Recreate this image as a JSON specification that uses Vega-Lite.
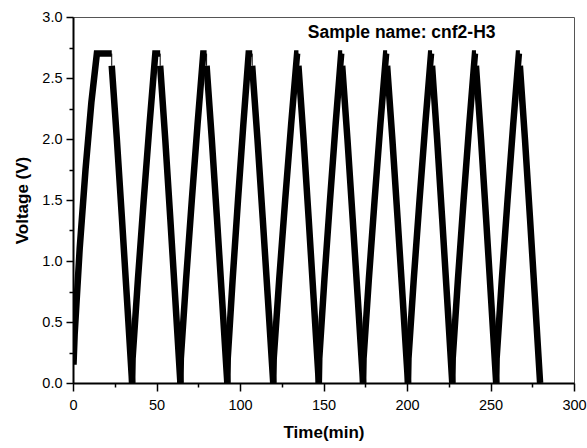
{
  "$schema": "https://vega.github.io/schema/vega-lite/v6.json",
  "width": 501,
  "height": 366,
  "autosize": "none",
  "padding": {"left": 73, "top": 17, "right": 13, "bottom": 65},
  "background": "#ffffff",
  "config": {
    "view": {"stroke": "#555555", "strokeWidth": 1},
    "axis": {
      "grid": false,
      "domainColor": "#000000",
      "domainWidth": 2,
      "tickColor": "#000000",
      "tickWidth": 1.5,
      "labelFont": "Liberation Sans",
      "labelFontSize": 14.5,
      "labelColor": "#000000",
      "titleFont": "Liberation Sans",
      "titleFontSize": 17,
      "titleFontWeight": "bold",
      "titleColor": "#000000"
    }
  },
  "datasets": {
    "curve": [
      {"t": 0.3, "v": 0.15, "s": "c1"}, {"t": 1.0, "v": 0.4, "s": "c1"}, {"t": 4.0, "v": 1.1, "s": "c1"}, {"t": 7.5, "v": 1.75, "s": "c1"}, {"t": 11.0, "v": 2.3, "s": "c1"}, {"t": 14.3, "v": 2.7, "s": "c1"}, {"t": 23.2, "v": 2.7, "s": "c1"},
      {"t": 23.2, "v": 2.6, "s": "d1"}, {"t": 26.25, "v": 2.0, "s": "d1"}, {"t": 29.3, "v": 1.35, "s": "d1"}, {"t": 32.35, "v": 0.68, "s": "d1"}, {"t": 35.4, "v": 0.0, "s": "d1"},
      {"t": 35.4, "v": 0.0, "s": "c2"}, {"t": 35.68, "v": 0.2, "s": "c2"}, {"t": 38.88, "v": 0.85, "s": "c2"}, {"t": 42.35, "v": 1.5, "s": "c2"}, {"t": 45.83, "v": 2.12, "s": "c2"}, {"t": 49.3, "v": 2.7, "s": "c2"}, {"t": 52.2, "v": 2.7, "s": "c2"},
      {"t": 52.2, "v": 2.6, "s": "d2"}, {"t": 55.23, "v": 2.0, "s": "d2"}, {"t": 58.25, "v": 1.35, "s": "d2"}, {"t": 61.28, "v": 0.68, "s": "d2"}, {"t": 64.3, "v": 0.0, "s": "d2"},
      {"t": 64.3, "v": 0.0, "s": "c3"}, {"t": 64.57, "v": 0.2, "s": "c3"}, {"t": 67.73, "v": 0.85, "s": "c3"}, {"t": 71.15, "v": 1.5, "s": "c3"}, {"t": 74.58, "v": 2.12, "s": "c3"}, {"t": 78.0, "v": 2.7, "s": "c3"}, {"t": 80.0, "v": 2.7, "s": "c3"},
      {"t": 80.0, "v": 2.6, "s": "d3"}, {"t": 83.1, "v": 2.0, "s": "d3"}, {"t": 86.2, "v": 1.35, "s": "d3"}, {"t": 89.3, "v": 0.68, "s": "d3"}, {"t": 92.4, "v": 0.0, "s": "d3"},
      {"t": 92.4, "v": 0.0, "s": "c4"}, {"t": 92.66, "v": 0.2, "s": "c4"}, {"t": 95.6, "v": 0.85, "s": "c4"}, {"t": 98.8, "v": 1.5, "s": "c4"}, {"t": 102.0, "v": 2.12, "s": "c4"}, {"t": 105.2, "v": 2.7, "s": "c4"}, {"t": 107.3, "v": 2.7, "s": "c4"},
      {"t": 107.3, "v": 2.6, "s": "d4"}, {"t": 110.45, "v": 2.0, "s": "d4"}, {"t": 113.6, "v": 1.35, "s": "d4"}, {"t": 116.75, "v": 0.68, "s": "d4"}, {"t": 119.9, "v": 0.0, "s": "d4"},
      {"t": 119.9, "v": 0.0, "s": "c5"}, {"t": 120.19, "v": 0.2, "s": "c5"}, {"t": 123.48, "v": 0.85, "s": "c5"}, {"t": 127.05, "v": 1.5, "s": "c5"}, {"t": 130.63, "v": 2.12, "s": "c5"}, {"t": 134.2, "v": 2.7, "s": "c5"}, {"t": 135.0, "v": 2.7, "s": "c5"},
      {"t": 135.0, "v": 2.6, "s": "d5"}, {"t": 138.05, "v": 2.0, "s": "d5"}, {"t": 141.1, "v": 1.35, "s": "d5"}, {"t": 144.15, "v": 0.68, "s": "d5"}, {"t": 147.2, "v": 0.0, "s": "d5"},
      {"t": 147.2, "v": 0.0, "s": "c6"}, {"t": 147.47, "v": 0.2, "s": "c6"}, {"t": 150.55, "v": 0.85, "s": "c6"}, {"t": 153.9, "v": 1.5, "s": "c6"}, {"t": 157.25, "v": 2.12, "s": "c6"}, {"t": 160.6, "v": 2.7, "s": "c6"}, {"t": 161.2, "v": 2.7, "s": "c6"},
      {"t": 161.2, "v": 2.6, "s": "d6"}, {"t": 164.33, "v": 2.0, "s": "d6"}, {"t": 167.45, "v": 1.35, "s": "d6"}, {"t": 170.58, "v": 0.68, "s": "d6"}, {"t": 173.7, "v": 0.0, "s": "d6"},
      {"t": 173.7, "v": 0.0, "s": "c7"}, {"t": 173.98, "v": 0.2, "s": "c7"}, {"t": 177.15, "v": 0.85, "s": "c7"}, {"t": 180.6, "v": 1.5, "s": "c7"}, {"t": 184.05, "v": 2.12, "s": "c7"}, {"t": 187.5, "v": 2.7, "s": "c7"}, {"t": 188.1, "v": 2.7, "s": "c7"},
      {"t": 188.1, "v": 2.6, "s": "d7"}, {"t": 191.23, "v": 2.0, "s": "d7"}, {"t": 194.35, "v": 1.35, "s": "d7"}, {"t": 197.48, "v": 0.68, "s": "d7"}, {"t": 200.6, "v": 0.0, "s": "d7"},
      {"t": 200.6, "v": 0.0, "s": "c8"}, {"t": 200.88, "v": 0.2, "s": "c8"}, {"t": 204.05, "v": 0.85, "s": "c8"}, {"t": 207.5, "v": 1.5, "s": "c8"}, {"t": 210.95, "v": 2.12, "s": "c8"}, {"t": 214.4, "v": 2.7, "s": "c8"}, {"t": 215.0, "v": 2.7, "s": "c8"},
      {"t": 215.0, "v": 2.6, "s": "d8"}, {"t": 218.03, "v": 2.0, "s": "d8"}, {"t": 221.05, "v": 1.35, "s": "d8"}, {"t": 224.08, "v": 0.68, "s": "d8"}, {"t": 227.1, "v": 0.0, "s": "d8"},
      {"t": 227.1, "v": 0.0, "s": "c9"}, {"t": 227.37, "v": 0.2, "s": "c9"}, {"t": 230.5, "v": 0.85, "s": "c9"}, {"t": 233.9, "v": 1.5, "s": "c9"}, {"t": 237.3, "v": 2.12, "s": "c9"}, {"t": 240.7, "v": 2.7, "s": "c9"}, {"t": 241.3, "v": 2.7, "s": "c9"},
      {"t": 241.3, "v": 2.6, "s": "d9"}, {"t": 244.33, "v": 2.0, "s": "d9"}, {"t": 247.35, "v": 1.35, "s": "d9"}, {"t": 250.38, "v": 0.68, "s": "d9"}, {"t": 253.4, "v": 0.0, "s": "d9"},
      {"t": 253.4, "v": 0.0, "s": "c10"}, {"t": 253.67, "v": 0.2, "s": "c10"}, {"t": 256.8, "v": 0.85, "s": "c10"}, {"t": 260.2, "v": 1.5, "s": "c10"}, {"t": 263.6, "v": 2.12, "s": "c10"}, {"t": 267.0, "v": 2.7, "s": "c10"}, {"t": 267.6, "v": 2.7, "s": "c10"},
      {"t": 267.6, "v": 2.6, "s": "d10"}, {"t": 270.63, "v": 2.0, "s": "d10"}, {"t": 273.65, "v": 1.35, "s": "d10"}, {"t": 276.68, "v": 0.68, "s": "d10"}, {"t": 279.7, "v": 0.0, "s": "d10"}
    ],
    "conn": [
      {"t": 23.2, "v": 2.6, "v2": 2.7}, {"t": 52.2, "v": 2.6, "v2": 2.7}, {"t": 80.0, "v": 2.6, "v2": 2.7}, {"t": 107.3, "v": 2.6, "v2": 2.7}, {"t": 135.0, "v": 2.6, "v2": 2.7},
      {"t": 161.2, "v": 2.6, "v2": 2.7}, {"t": 188.1, "v": 2.6, "v2": 2.7}, {"t": 215.0, "v": 2.6, "v2": 2.7}, {"t": 241.3, "v": 2.6, "v2": 2.7}, {"t": 267.6, "v": 2.6, "v2": 2.7}
    ],
    "note": [
      {"t": 140.6, "v": 2.87, "label": "Sample name: cnf2-H3"}
    ]
  },
  "encoding": {
    "x": {
      "field": "t",
      "type": "quantitative",
      "scale": {"domain": [0, 300], "nice": false, "zero": false},
      "axis": {
        "title": "Time(min)",
        "values": [0, 25, 50, 75, 100, 125, 150, 175, 200, 225, 250, 275, 300],
        "labelExpr": "datum.value % 50 === 0 ? datum.label : ''",
        "tickSize": {"condition": {"test": "datum.value % 50 === 0", "value": 8}, "value": 4},
        "labelPadding": 7,
        "titlePadding": 13,
        "labelFlush": false,
        "labelOverlap": false
      }
    },
    "y": {
      "field": "v",
      "type": "quantitative",
      "scale": {"domain": [0, 3], "nice": false, "zero": false},
      "axis": {
        "title": "Voltage (V)",
        "values": [0, 0.25, 0.5, 0.75, 1, 1.25, 1.5, 1.75, 2, 2.25, 2.5, 2.75, 3],
        "labelExpr": "datum.value % 0.5 === 0 ? format(datum.value, '.1f') : ''",
        "tickSize": {"condition": {"test": "datum.value % 0.5 === 0", "value": 7}, "value": 4},
        "labelPadding": 4,
        "titlePadding": 10,
        "labelFlush": false,
        "labelOverlap": false
      }
    }
  },
  "layer": [
    {
      "data": {"name": "curve"},
      "mark": {"type": "line", "color": "#000000", "strokeWidth": 6.5, "strokeJoin": "miter", "strokeCap": "butt", "clip": true},
      "encoding": {"detail": {"field": "s"}}
    },
    {
      "data": {"name": "conn"},
      "mark": {"type": "rule", "color": "#000000", "strokeWidth": 1},
      "encoding": {"y2": {"field": "v2"}}
    },
    {
      "data": {"name": "note"},
      "mark": {"type": "text", "align": "left", "baseline": "middle", "font": "Liberation Sans", "fontSize": 17.5, "fontWeight": "bold", "color": "#000000"},
      "encoding": {"text": {"field": "label"}}
    }
  ]
}
